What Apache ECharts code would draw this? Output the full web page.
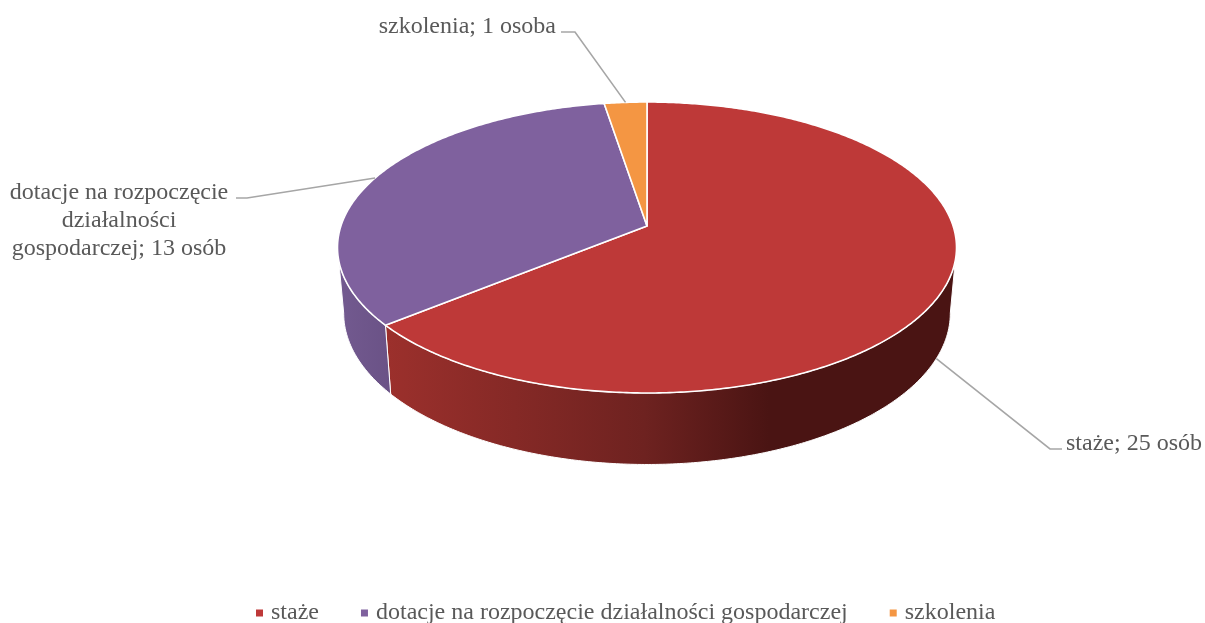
<!DOCTYPE html>
<html><head><meta charset="utf-8">
<style>html,body{margin:0;padding:0;background:#fff}#c{width:1205px;height:623px}</style>
<script src="https://cdn.jsdelivr.net/npm/echarts@6/dist/echarts.min.js"></script>
</head><body><div id="c"></div>
<script>
const categories = ['staże', 'dotacje na rozpoczęcie działalności gospodarczej', 'szkolenia'];
const values = [25, 13, 1];
const labelTexts = ['staże; 25 osób', 'dotacje na rozpoczęcie\ndziałalności\ngospodarczej; 13 osób', 'szkolenia; 1 osoba'];
const colors = ['#BE3938', '#7F619E', '#F49643'];

const total = values.reduce((a, b) => a + b, 0);
const starts = values.map((_, i) => values.slice(0, i).reduce((a, b) => a + b, 0));
const FONT = '"Liberation Serif","Times New Roman",serif';
const TXT = '#595959';
const FS = 24;

// perspective disc
const CX = 647, CY = 226, A = 306.1, B = 142.3, K = 0.1478;
function topPt(t) {
  const u = Math.sin(t), v = Math.cos(t), w = 1 + K * v;
  return [CX + A * u / w, CY - B * v / w];
}
function lowPt(t) {
  const p = topPt(t);
  return [CX + 0.98 * (p[0] - CX), p[1] + 71.5 - 0.04 * (393 - p[1])];
}
function angle(v) { return v / total * Math.PI * 2; }
function arc(fn, a0, a1) {
  const n = Math.max(2, Math.ceil((a1 - a0) / 0.01)), pts = [];
  for (let i = 0; i <= n; i++) pts.push(fn(a0 + (a1 - a0) * i / n));
  return pts;
}
// the part of the rim that faces the viewer
const FRONT0 = Math.acos(-K), FRONT1 = Math.PI * 2 - FRONT0;
const sideFill = [
  new echarts.graphic.LinearGradient(384, 0, 950, 0, [
    {offset: 0, color: '#9C302C'}, {offset: 0.46, color: '#6E2220'},
    {offset: 0.68, color: '#4A1413'}, {offset: 1, color: '#4A1413'}], true),
  new echarts.graphic.LinearGradient(337, 0, 390, 0, [
    {offset: 0, color: '#735A90'}, {offset: 1, color: '#6A5286'}], true),
  '#B87030'
];
// leader elbows and label anchors
const leaders = [
  {elbow: [1050, 449], tail: [1062, 449], lower: true, text: [1066, 444], align: 'left'},
  {elbow: [247, 198], tail: [236, 198], lower: false, text: [119, 221], align: 'center'},
  {elbow: [575, 32], tail: [561, 32], lower: false, text: [556, 27], align: 'right'}
];

const sideSeries = {
  type: 'custom', name: 'side', coordinateSystem: 'none', silent: true, z: 1,
  data: values,
  renderItem(params, api) {
    const i = params.dataIndex;
    const s = angle(starts[i]);
    const a0 = Math.max(s, FRONT0), a1 = Math.min(s + angle(api.value(0)), FRONT1);
    if (a1 <= a0) return null;
    const pts = arc(topPt, a0, a1).concat(arc(lowPt, a0, a1).reverse());
    return {type: 'polygon', shape: {points: pts},
      style: {fill: sideFill[i], stroke: '#fff', lineWidth: 1}};
  }
};
const sliceSeries = categories.map((name, i) => ({
  type: 'custom', name, coordinateSystem: 'none', silent: true, z: 2,
  itemStyle: {color: colors[i]},
  data: [values[i]],
  renderItem(params, api) {
    const a0 = angle(starts[i]), a1 = a0 + angle(api.value(0));
    const pts = [[CX, CY]].concat(arc(topPt, a0, a1));
    const mid = (a0 + a1) / 2, L = leaders[i];
    const anchor = (L.lower ? lowPt : topPt)(mid);
    return {type: 'group', children: [
      {type: 'polygon', shape: {points: pts},
       style: {fill: colors[i], stroke: '#fff', lineWidth: 1.6, lineJoin: 'round'}},
      {type: 'polyline', z2: 5, shape: {points: [anchor, L.elbow, L.tail]},
       style: {fill: null, stroke: '#A6A6A6', lineWidth: 1.6}},
      {type: 'text', z2: 6, x: L.text[0], y: L.text[1],
       style: {text: labelTexts[i], fill: TXT, font: FS + 'px ' + FONT,
               align: L.align, verticalAlign: 'middle', lineHeight: 28}}
    ]};
  }
}));

const chart = echarts.init(document.getElementById('c'));
chart.setOption({
  animation: false,
  backgroundColor: '#fff',
  color: colors,
  legend: {
    data: categories.map(name => ({name, icon: 'rect'})),
    left: 251, top: 596, itemWidth: 7, itemHeight: 7, itemGap: 42,
    textStyle: {fontFamily: FONT, fontSize: FS, color: TXT, padding: [0, 0, 0, 3]},
    selectedMode: false
  },
  series: [sideSeries, ...sliceSeries]
});
</script></body></html>
